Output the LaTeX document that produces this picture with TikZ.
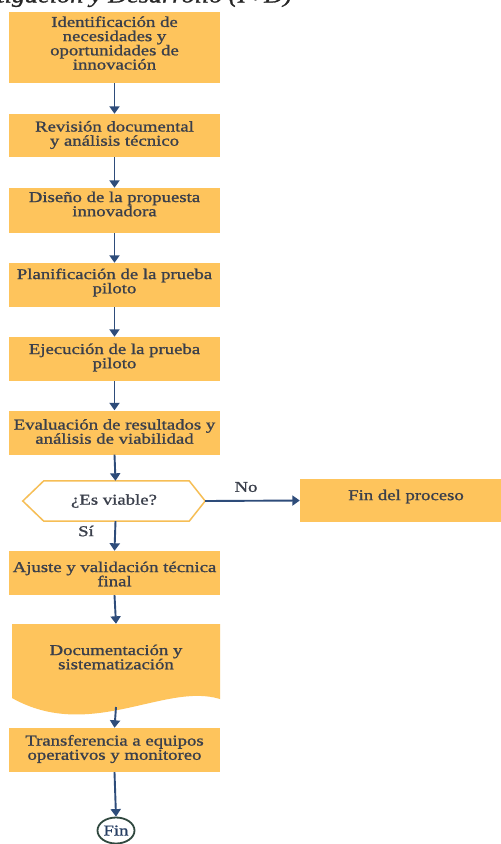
\documentclass[tikz,border=0pt]{standalone}
\usepackage{fontspec}
\setmainfont{Liberation Serif}[FakeStretch=1.25,FakeBold=1.2]
\usetikzlibrary{arrows.meta,shapes.geometric}
\definecolor{boxfill}{HTML}{FEC45C}
\definecolor{flow}{HTML}{2E4C7A}
\definecolor{ink}{HTML}{3A3F4B}
\definecolor{hexline}{HTML}{F6BE55}
\definecolor{endline}{HTML}{30483F}
\begin{document}
\begin{tikzpicture}[x=1pt,y=-1pt,
  stepbox/.style={fill=boxfill,draw=none,minimum width=211pt,inner sep=0pt},
  txt/.style={align=center,text=ink,inner sep=0pt,font=\fontsize{15}{14.2}\selectfont},
  lbl/.style={text=ink,inner sep=0pt,font=\fontsize{15}{14.2}\selectfont},
  flowarrow/.style={draw=flow,line width=1.9pt,-{Triangle[width=10pt,length=7.5pt]}}]
\useasboundingbox (0,0) rectangle (501,844);
\fill[white] (0,0) rectangle (501,844);

% caption line, cut by the page edge
\begin{scope}
\clip (0,0) rectangle (501,844);
\node[anchor=base east,inner sep=0pt,font=\fontsize{21}{22}\itshape\selectfont,text=black!85]
  (cap) at (292,2.5) {Investigación y Desarrollo (I+D)};
\end{scope}

% process boxes
\node[stepbox,minimum height=71pt] (b1) at (114.5,47.5) {};
\node[txt] at (114.5,43) {Identificación de\\necesidades y\\oportunidades de\\innovación};

\node[stepbox,minimum height=43pt] (b2) at (114.5,135.5) {};
\node[txt] at (114.5,135) {Revisión documental\\y análisis técnico};

\node[stepbox,minimum height=45pt] (b3) at (114.5,210.5) {};
\node[txt] at (114.5,204) {Diseño de la propuesta\\innovadora};

\node[stepbox,minimum height=44pt] (b4) at (114.5,285) {};
\node[txt] at (114.5,282.5) {Planificación de la prueba\\piloto};

\node[stepbox,minimum height=44pt] (b5) at (114.5,359) {};
\node[txt] at (114.5,357.5) {Ejecución de la prueba\\piloto};

\node[stepbox,minimum height=44pt] (b6) at (114.5,432.5) {};
\node[txt] at (114.5,431.5) {Evaluación de resultados y\\análisis de viabilidad};

% decision
\node[minimum width=182pt,minimum height=40pt,inner sep=0pt] (dec) at (114,501) {};
\draw[hexline,line width=1.5pt,fill=white]
  (dec.west) -- ([xshift=21pt]dec.north west) -- ([xshift=-16pt]dec.north east)
  -- (dec.east) -- ([xshift=-16pt]dec.south east) -- ([xshift=21pt]dec.south west) -- cycle;
\node[lbl] at (dec.center) {¿Es viable?};

\node[stepbox,minimum width=201pt,minimum height=43pt] (endp) at (400.5,500.5) {};
\node[lbl] at (406,496.5) {Fin del proceso};

\node[stepbox,minimum height=44pt] (b7) at (114.5,573) {};
\node[txt] at (114.5,574) {Ajuste y validación técnica\\final};

% document shape
\fill[boxfill] (12,624) -- (220,624) -- (220,699)
  .. controls (165,682) and (90,742) .. (12,698) -- cycle;
\node[minimum width=208pt,minimum height=60pt,inner sep=0pt] (doc) at (116,654) {};
\node[txt] at (116,657) {Documentación y\\sistematización};
\coordinate (docbot) at (116,707);

\node[stepbox,minimum height=44pt] (b8) at (114.5,750) {};
\node[txt] at (114.5,749) {Transferencia a equipos\\operativos y monitoreo};

% terminal
\node[ellipse,draw=endline,line width=1.8pt,fill=white,minimum width=37pt,minimum height=26pt,
  inner sep=0pt,text=flow!80!black,font=\fontsize{15}{15}\selectfont] (fin) at (116,830.5) {Fin};

% connectors
\draw[flowarrow] (b1.south) -- (b2.north);
\draw[flowarrow] (b2.south) -- (b3.north);
\draw[flowarrow] (b3.south) -- (b4.north);
\draw[flowarrow] (b4.south) -- (b5.north);
\draw[flowarrow] (b5.south) -- (b6.north);
\draw[flowarrow] (b6.south) -- ([xshift=1.5pt]dec.north);
\draw[flowarrow] (dec.east) -- (endp.west);
\draw[flowarrow] ([xshift=1.5pt]dec.south) -- (b7.north);
\draw[flowarrow] (b7.south) -- (doc.north);
\draw[flowarrow] (docbot) -- (b8.north);
\draw[flowarrow] (b8.south) -- (fin.north);

% branch labels
\node[lbl] (no) at (246,487) {No};
\node[lbl] (si) at (86,531) {Sí};
\end{tikzpicture}
\end{document}
